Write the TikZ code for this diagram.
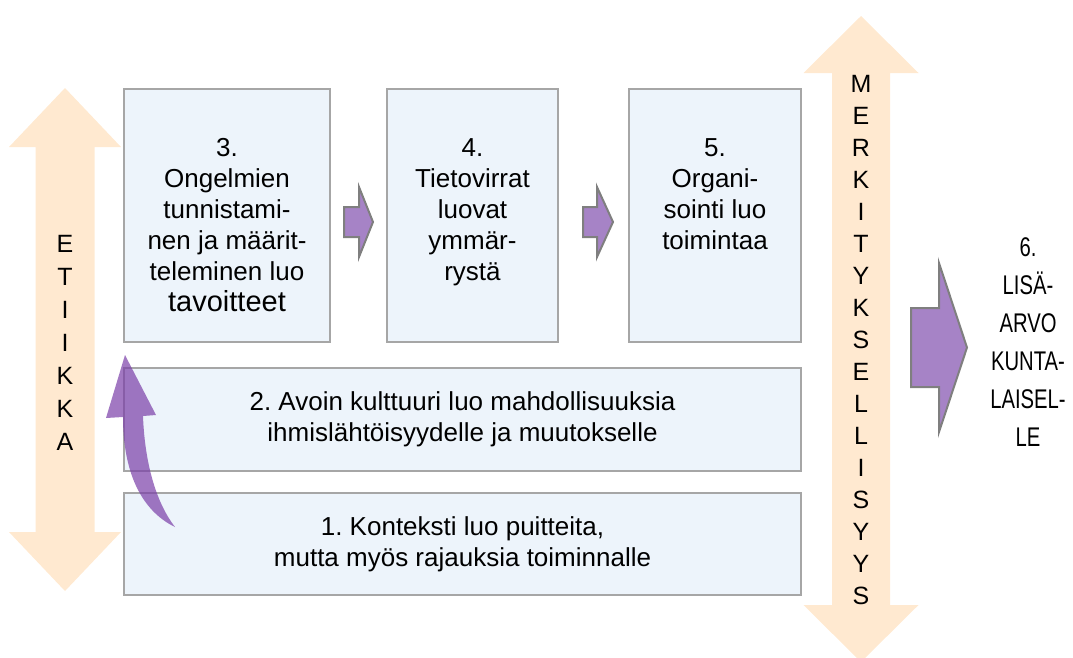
\documentclass[tikz,border=0pt]{standalone}
\usepackage{fontspec}
\setmainfont{Liberation Sans}
\newfontfamily\narrowfont[FakeStretch=0.75]{Liberation Sans}
\usetikzlibrary{positioning}
\definecolor{boxfill}{HTML}{EDF4FB}
\definecolor{boxline}{HTML}{A6A6A6}
\definecolor{peach}{HTML}{FFE9D0}
\definecolor{lilac}{HTML}{A683C6}
\definecolor{arrowline}{HTML}{7F7F7F}
\definecolor{curvepurple}{HTML}{7B3FA8}
\tikzset{
  box/.style={draw=boxline, line width=2pt, fill=boxfill, inner sep=0pt},
  boxtext/.style={align=center, inner sep=0pt, font=\fontsize{26}{31}\selectfont},
  sidearrow/.style={fill=peach},
  letters/.style={align=center, inner sep=0pt, font=\fontsize{25}{32}\selectfont},
  blockarrow/.style={fill=lilac, draw=arrowline, line width=2pt, line join=miter},
  curvearrow/.style={fill=curvepurple, fill opacity=0.7},
}
\begin{document}
\frenchspacing
\begin{tikzpicture}[x=1pt, y=-1pt]
\useasboundingbox (0,0) rectangle (1073,657);
% double arrows at the sides
\fill[sidearrow] (65,88) -- (121,147) -- (94.5,147) -- (94.5,532) -- (121,532)
  -- (65,591) -- (9,532) -- (35.5,532) -- (35.5,147) -- (9,147) -- cycle;
\fill[sidearrow] (861,16) -- (918.5,73) -- (890,73) -- (890,605) -- (918.5,605)
  -- (861,662) -- (803.5,605) -- (832,605) -- (832,73) -- (803.5,73) -- cycle;
\node[letters, font=\fontsize{25}{33}\selectfont] (etiikka) at (65,343) {E\\T\\I\\I\\K\\K\\A};
\node[letters] (merkit) at (861,340) {M\\E\\R\\K\\I\\T\\Y\\K\\S\\E\\L\\L\\I\\S\\Y\\Y\\S};
% boxes
\node[box, minimum width=206, minimum height=253] (box3) at (227,215.5) {};
\node[box, minimum width=171, minimum height=253] (box4) at (472.5,215.5) {};
\node[box, minimum width=172, minimum height=253] (box5) at (715,215.5) {};
\node[boxtext, anchor=north, below=50pt of box3.north] (t3)
  {3.\\Ongelmien\\tunnistami-\\nen ja määrit-\\teleminen luo\\{\fontsize{29}{31}\selectfont tavoitteet}};
\node[boxtext, anchor=north, below=50pt of box4.north] (t4)
  {4.\\Tietovirrat\\luovat\\ymmär-\\rystä};
\node[boxtext, anchor=north, below=50pt of box5.north] (t5)
  {5.\\Organi-\\sointi luo\\toimintaa};
\node[box, boxtext, minimum width=677, minimum height=103] (box2) at (462.5,419.5)
  {2. Avoin kulttuuri luo mahdollisuuksia\\ihmislähtöisyydelle ja muutokselle};
\node[box, boxtext, minimum width=677, minimum height=102] (box1) at (462.5,544)
  {1. Konteksti luo puitteita,\\mutta myös rajauksia toiminnalle};
% arrows between the boxes
\coordinate (a34) at (344,222);
\coordinate (a45) at (583,222);
\coordinate (a56) at (911,347.5);
\draw[blockarrow] (a34) ++(0,-15) -- ++(15,0) -- ++(0,-20) -- ++(14,35) -- ++(-14,35)
  -- ++(0,-20) -- ++(-15,0) -- cycle;
\draw[blockarrow] (a45) ++(0,-15) -- ++(14,0) -- ++(0,-20) -- ++(16,35) -- ++(-16,35)
  -- ++(0,-20) -- ++(-14,0) -- cycle;
\draw[blockarrow] (a56) ++(0,-39.5) -- ++(28,0) -- ++(0,-45) -- ++(28,84.5) -- ++(-28,84.5)
  -- ++(0,-45) -- ++(-28,0) -- cycle;
\node[align=center, inner sep=0pt, font=\fontsize{27}{38}\selectfont\narrowfont] (lisaarvo)
  at (1028,342) {6.\\LISÄ-\\ARVO\\KUNTA-\\LAISEL-\\LE};
% curved arrow from 1 up to 3
\fill[curvearrow] (106,418) -- (125,355) -- (156,415) -- (143,416)
  .. controls (145,468) and (158,505) .. (175,527)
  .. controls (140,510) and (123,470) .. (123,417) -- cycle;
\end{tikzpicture}
\end{document}
